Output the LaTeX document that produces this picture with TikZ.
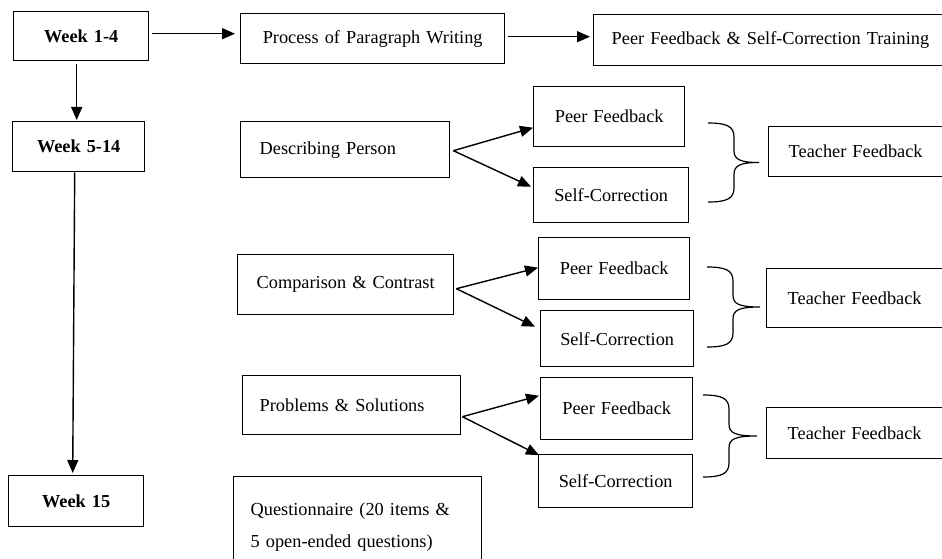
\documentclass[tikz,border=0pt]{standalone}
\usepackage{fontspec}
\setmainfont{Liberation Serif}
\usetikzlibrary{arrows.meta,calc}
\begin{document}
\begin{tikzpicture}[x=1pt,y=-1pt,
  txt/.style={font=\fontsize{18.3}{22}\selectfont},
  bx/.style={draw, line width=1.4pt, anchor=north west, inner ysep=0pt, txt},
  cb/.style 2 args={bx, minimum width=#1, minimum height=#2, text width=#1, inner xsep=0pt, align=center},
  lb/.style n args={4}{bx, minimum width=#1, minimum height=#2, inner xsep=#3, text width=#4, align=left},
  wk/.style={font=\fontsize{18.3}{22}\selectfont\bfseries},
  arr/.style={line width=1.4pt, -{Triangle[length=13pt,width=11pt]}},
  brc/.style={line width=1.2pt}
]
\useasboundingbox (0,0) rectangle (942,559);
\clip (0,0) rectangle (942,559);

% left column
\node[cb={135pt}{49pt}, wk] (w1) at (13,11) {Week 1-4};
\node[cb={132pt}{50pt}, wk] (w2) at (12,121) {Week 5-14};
\node[cb={135pt}{51pt}, wk] (w3) at (8,475) {Week 15};

% top row
\node[cb={264pt}{50pt}] (proc) at (240,13) {Process of Paragraph Writing};
\node[lb={370pt}{51pt}{18pt}{334pt}] (train) at (593,14) {Peer Feedback \& Self-Correction Training};

% middle column
\node[lb={209pt}{56pt}{19pt}{171pt}] (desc) at (240,121) {Describing Person};
\node[cb={216pt}{60pt}] (comp) at (237,254) {Comparison \& Contrast};
\node[lb={218pt}{59pt}{17pt}{184pt}] (prob) at (242,375) {Problems \& Solutions};
\node[lb={248pt}{100pt}{17pt}{214pt}, font=\fontsize{18.3}{32}\selectfont] (quest) at (233,476) {Questionnaire (20 items \&\\5 open-ended questions)};

% feedback boxes
\node[cb={151pt}{60pt}] (peer1) at (533,86) {Peer Feedback};
\node[cb={155pt}{55pt}] (self1) at (533,167) {Self-Correction};
\node[lb={200pt}{50pt}{20pt}{160pt}] (teach1) at (768,126) {Teacher Feedback};

\node[cb={151pt}{62pt}] (peer2) at (538,237) {Peer Feedback};
\node[cb={153pt}{56pt}] (self2) at (540,310) {Self-Correction};
\node[lb={200pt}{59pt}{21pt}{158pt}] (teach2) at (766,268) {Teacher Feedback};

\node[cb={152pt}{62pt}] (peer3) at (540,377) {Peer Feedback};
\node[cb={154pt}{53pt}] (self3) at (538,454) {Self-Correction};
\node[lb={200pt}{51pt}{21pt}{158pt}] (teach3) at (766,407) {Teacher Feedback};

% week connectors
\draw[arr] ($(w1.east)+(3,-2.5)$) -- ($(proc.west)+(-5,-5)$);
\draw[arr] ($(proc.east)+(3,-2)$) -- ($(train.west)+(-3,-3.5)$);
\draw[arr] ($(w1.south)+(-4.5,3)$) -- ($(w2.north)+(-2,-1)$);
\draw[arr] ($(w2.south)+(-4,0)$) -- ($(w3.north)+(-3.5,-2)$);

% branch arrows
\draw[arr] ($(desc.east)+(3,1)$) -- ($(peer1.west)+(0,11)$);
\draw[arr] ($(desc.east)+(3,1)$) -- ($(self1.west)+(-2,-8.5)$);
\draw[arr] ($(comp.east)+(2,4)$) -- ($(peer2.west)+(0,-1)$);
\draw[arr] ($(comp.east)+(2,4)$) -- ($(self2.west)+(-5,-12)$);
\draw[arr] ($(prob.east)+(1,11.5)$) -- ($(peer3.west)+(-1,-13)$);
\draw[arr] ($(prob.east)+(1,11.5)$) -- ($(self3.west)+(1,-26)$);

% braces
\foreach \l/\t/\b/\tip in {708/123/202/759, 707/267/347/760, 703/395/477/757} {
  \pgfmathsetmacro\m{(\t+\b)/2}
  \draw[brc] (\l,\t) .. controls (\l+18,\t) and (\l+26,\t+3) .. (\l+26,\t+14)
    -- (\l+26,\m-12) .. controls (\l+26,\m-3) and (\l+32,\m) .. (\tip,\m)
    .. controls (\l+32,\m) and (\l+26,\m+3) .. (\l+26,\m+12)
    -- (\l+26,\b-14) .. controls (\l+26,\b-3) and (\l+18,\b) .. (\l,\b);
}
\end{tikzpicture}
\end{document}
